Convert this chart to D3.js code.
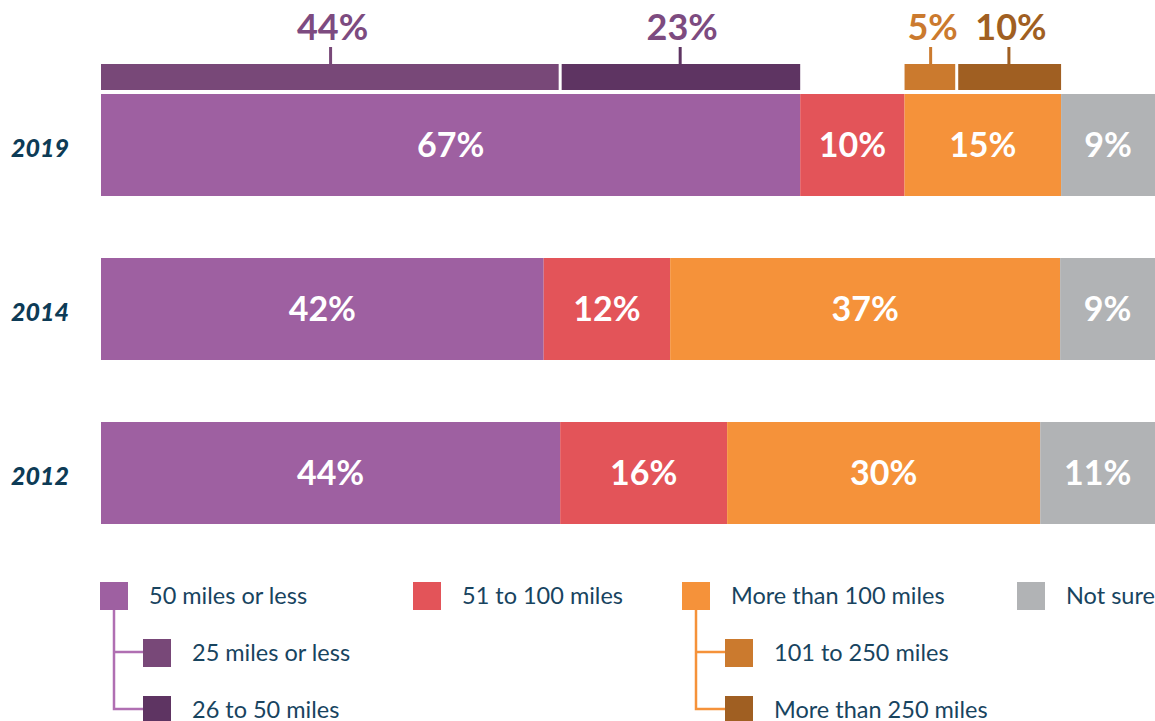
<!DOCTYPE html>
<html>
<head>
<meta charset="utf-8">
<script src="https://cdn.jsdelivr.net/npm/d3@7"></script>
<style>
  html, body { margin: 0; padding: 0; background: #fff; }
  svg { display: block; font-family: Lato, "Open Sans", sans-serif; }
</style>
</head>
<body>
<svg id="chart" width="1155" height="721"></svg>
<script>
// Survey years, top to bottom
const years = ["2019", "2014", "2012"];

// Main distance categories
const categories = ["50 miles or less", "51 to 100 miles", "More than 100 miles", "Not sure"];
const categoryColors = ["#9e60a1", "#e35459", "#f5923a", "#b1b3b5"];

// Share of respondents per category, by year
const values2019 = [67, 10, 15, 9];
const values2014 = [42, 12, 37, 9];
const values2012 = [44, 16, 30, 11];
const seriesByYear = { "2019": values2019, "2014": values2014, "2012": values2012 };

// 2019 breakdowns of the first and third categories
const nearSubcategories = ["25 miles or less", "26 to 50 miles"];
const nearSubValues = [44, 23];
const nearSubColors = ["#784878", "#5e3462"];
const farSubcategories = ["101 to 250 miles", "More than 250 miles"];
const farSubValues = [5, 10];
const farSubColors = ["#cb7a2e", "#a05f22"];
const subLabelColors = { near: ["#7d4b80", "#7d4b80"], far: ["#cb7a2e", "#a05f22"] };

const svg = d3.select("#chart");
const textColor = "#18445f";

const y = d3.scaleBand().domain(years).range([94, 524]).paddingInner(62 / 164);

// Year labels
svg.append("g").selectAll("text").data(years).join("text")
  .attr("x", 11)
  .attr("y", d => y(d) + y.bandwidth() / 2 + 3)
  .attr("dy", "0.36em")
  .attr("fill", "#0d3b56")
  .attr("font-size", 25)
  .attr("font-weight", 900)
  .attr("font-style", "italic")
  .text(d => d);

// Stacked bars, each year scaled to the sum of its rounded shares
const rows = svg.append("g");
const segmentsByYear = {};
years.forEach(year => {
  const vals = seriesByYear[year];
  const total = d3.sum(vals);
  const x = d3.scaleLinear().domain([0, total]).range([101, 1155]);
  let acc = 0;
  const segs = vals.map((v, i) => {
    const s = { year, i, v, x0: x(acc), x1: x(acc + v) };
    acc += v;
    return s;
  });
  segmentsByYear[year] = segs;
  const g = rows.append("g");
  g.selectAll("rect").data(segs).join("rect")
    .attr("x", d => d.x0)
    .attr("y", y(year))
    .attr("width", d => d.x1 - d.x0)
    .attr("height", y.bandwidth())
    .attr("fill", d => categoryColors[d.i]);
  g.selectAll("text").data(segs).join("text")
    .attr("x", d => (d.x0 + d.x1) / 2)
    .attr("y", y(year) + y.bandwidth() / 2)
    .attr("dy", "0.36em")
    .attr("text-anchor", "middle")
    .attr("fill", "#fff")
    .attr("font-size", 34)
    .attr("font-weight", 700)
    .text(d => d.v + "%");
});

// Breakdown bars above the 2019 row
const subTop = 64, subHeight = 26, gap = 3;
function drawBreakdown(parent, values, colors, labelColors) {
  const sx = d3.scaleLinear().domain([0, d3.sum(values)]).range([parent.x0, parent.x1]);
  let acc = 0;
  const parts = values.map((v, i) => {
    const p = { v, i, x0: sx(acc), x1: sx(acc + v) };
    acc += v;
    return p;
  });
  const g = svg.append("g");
  g.selectAll("rect").data(parts).join("rect")
    .attr("x", d => d.x0 + (d.i > 0 ? gap / 2 : 0))
    .attr("y", subTop)
    .attr("width", d => d.x1 - d.x0 - (parts.length > 1 ? gap / 2 : 0))
    .attr("height", subHeight)
    .attr("fill", d => colors[d.i]);
  g.selectAll("line").data(parts).join("line")
    .attr("x1", d => (d.x0 + d.x1) / 2)
    .attr("x2", d => (d.x0 + d.x1) / 2)
    .attr("y1", 47)
    .attr("y2", subTop)
    .attr("stroke", d => colors[d.i])
    .attr("stroke-width", 3);
  g.selectAll("text").data(parts).join("text")
    .attr("x", d => (d.x0 + d.x1) / 2 + 2)
    .attr("y", 40)
    .attr("text-anchor", "middle")
    .attr("fill", d => labelColors[d.i])
    .attr("font-size", 36)
    .attr("font-weight", 700)
    .text(d => d.v + "%");
}
drawBreakdown(segmentsByYear["2019"][0], nearSubValues, nearSubColors, subLabelColors.near);
drawBreakdown(segmentsByYear["2019"][2], farSubValues, farSubColors, subLabelColors.far);

// Legend
const legend = svg.append("g");
const sq = 28;
const mainX = [100, 413, 682, 1017];
const rowY = [582, 639, 696];
function legendItem(x, yTop, color, label) {
  legend.append("rect").attr("x", x).attr("y", yTop).attr("width", sq).attr("height", sq).attr("fill", color);
  legend.append("text")
    .attr("x", x + sq + 21)
    .attr("y", yTop + sq / 2)
    .attr("dy", "0.36em")
    .attr("fill", textColor)
    .attr("font-size", 23.5)
    .text(label);
}
categories.forEach((c, i) => legendItem(mainX[i], rowY[0], categoryColors[i], c));

function legendBranch(parentIdx, subs, colors, lineColor) {
  const px = mainX[parentIdx];
  const lx = px + 14;
  const childX = px + 43;
  legend.append("path")
    .attr("d", `M${lx},${rowY[0] + sq} V${rowY[2] + sq / 2 - 1} H${childX} M${lx},${rowY[1] + sq / 2 - 1} H${childX}`)
    .attr("fill", "none")
    .attr("stroke", lineColor)
    .attr("stroke-width", 2.5);
  subs.forEach((s, i) => legendItem(childX, rowY[i + 1], colors[i], s));
}
legendBranch(0, nearSubcategories, nearSubColors, "#b06fb2");
legendBranch(2, farSubcategories, farSubColors, "#f5923a");
</script>
</body>
</html>
